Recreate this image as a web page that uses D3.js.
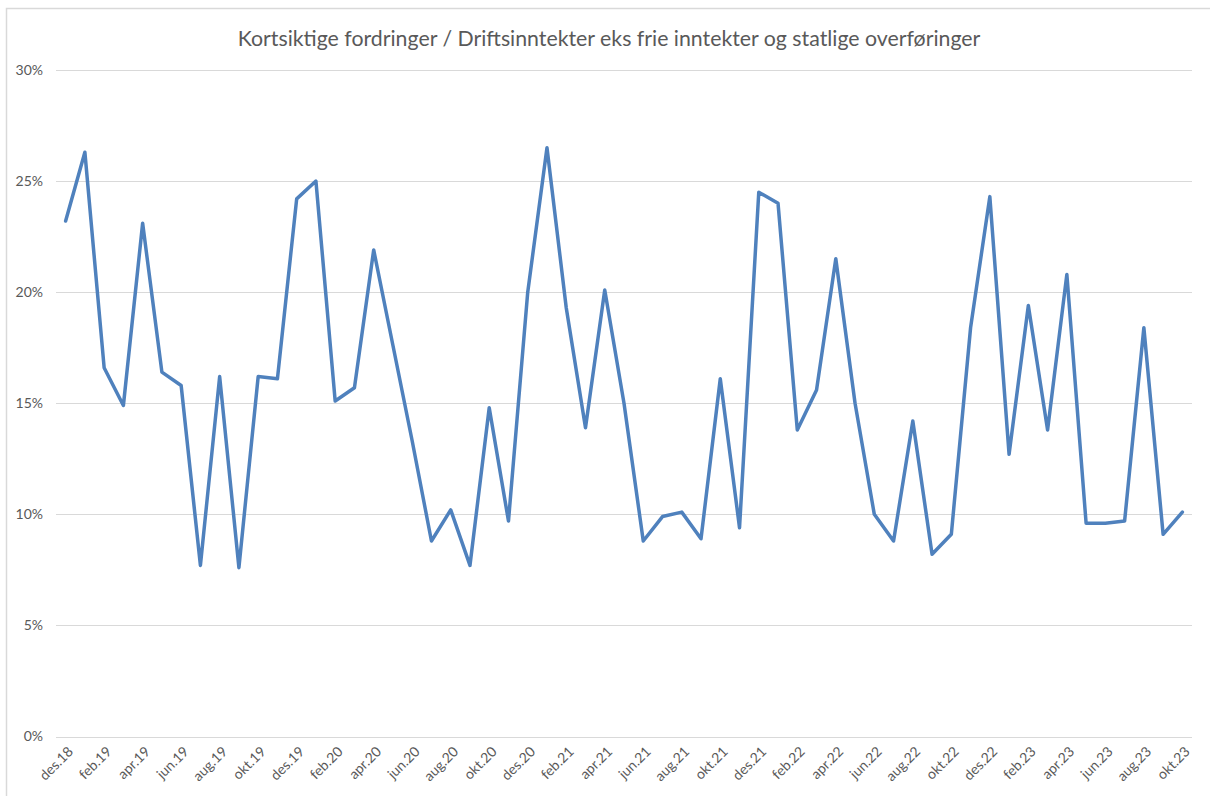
<!DOCTYPE html>
<html>
<head>
<meta charset="utf-8">
<script src="https://cdn.jsdelivr.net/npm/d3@7"></script>
<style>
  body { margin: 0; background: #fff; }
  svg { display: block; font-family: Lato, "Open Sans", sans-serif; }
</style>
</head>
<body>
<div id="chart"></div>
<script>
'use strict'

// months des.18 -> okt.23
const months = ['des', 'jan', 'feb', 'mar', 'apr', 'mai', 'jun', 'jul', 'aug', 'sep', 'okt', 'nov']
const categories = []
for (let i = 0; i < 59; i++) {
  const yr = 18 + Math.floor((i + 11) / 12)
  categories.push(months[i % 12] + '.' + yr)
}

// values in percent
const values = [
  23.2, 26.3, 16.6, 14.9, 23.1, 16.4, 15.8, 7.7, 16.2, 7.6,
  16.2, 16.1, 24.2, 25.0, 15.1, 15.7, 21.9, 17.6, 13.3, 8.8,
  10.2, 7.7, 14.8, 9.7, 20.0, 26.5, 19.3, 13.9, 20.1, 15.0,
  8.8, 9.9, 10.1, 8.9, 16.1, 9.4, 24.5, 24.0, 13.8, 15.6,
  21.5, 15.0, 10.0, 8.8, 14.2, 8.2, 9.1, 18.4, 24.3, 12.7,
  19.4, 13.8, 20.8, 9.6, 9.6, 9.7, 18.4, 9.1, 10.1
]

const yTicks = [0, 5, 10, 15, 20, 25, 30]
const title = 'Kortsiktige fordringer / Driftsinntekter eks frie inntekter og statlige overføringer'

const width = 1210
const height = 796
const margin = { top: 70, right: 18, bottom: 60, left: 56 }

const svg = d3.select('#chart').append('svg')
  .attr('width', width)
  .attr('height', height)

// chart frame
svg.append('rect')
  .attr('x', 6.5).attr('y', 8.5)
  .attr('width', width).attr('height', height)
  .attr('fill', 'none')
  .attr('stroke', '#d9d9d9')
  .attr('stroke-width', 1.5)

svg.append('text')
  .attr('x', 609).attr('y', 46)
  .attr('text-anchor', 'middle')
  .attr('font-size', 21.3)
  .attr('fill', '#595959')
  .text(title)

const x = d3.scaleBand()
  .domain(categories)
  .range([margin.left, width - margin.right])

const y = d3.scaleLinear()
  .domain([0, 30])
  .range([736.5, 70])

// gridlines
svg.append('g')
  .selectAll('line')
  .data(yTicks)
  .join('line')
  .attr('x1', margin.left).attr('x2', width - margin.right)
  .attr('y1', d => Math.round(y(d)) + 0.5)
  .attr('y2', d => Math.round(y(d)) + 0.5)
  .attr('stroke', '#d9d9d9')
  .attr('stroke-width', 1)

// y labels
svg.append('g')
  .selectAll('text')
  .data(yTicks)
  .join('text')
  .attr('x', 43)
  .attr('y', d => y(d))
  .attr('dy', '0.35em')
  .attr('text-anchor', 'end')
  .attr('font-size', 14)
  .attr('fill', '#595959')
  .text(d => d + '%')

// x labels, every second month
svg.append('g')
  .selectAll('text')
  .data(categories.filter((d, i) => i % 2 === 0))
  .join('text')
  .attr('transform', d => 'translate(' + (x(d) + x.bandwidth() / 2 + 5) + ',749) rotate(-45)')
  .attr('text-anchor', 'end')
  .attr('dy', '0.35em')
  .attr('font-size', 14)
  .attr('fill', '#595959')
  .text(d => d)

const line = d3.line()
  .x((d, i) => x(categories[i]) + x.bandwidth() / 2)
  .y(d => y(d))

svg.append('path')
  .datum(values)
  .attr('d', line)
  .attr('fill', 'none')
  .attr('stroke', '#4f81bd')
  .attr('stroke-width', 3.5)
  .attr('stroke-linejoin', 'round')
  .attr('stroke-linecap', 'round')
</script>
</body>
</html>
